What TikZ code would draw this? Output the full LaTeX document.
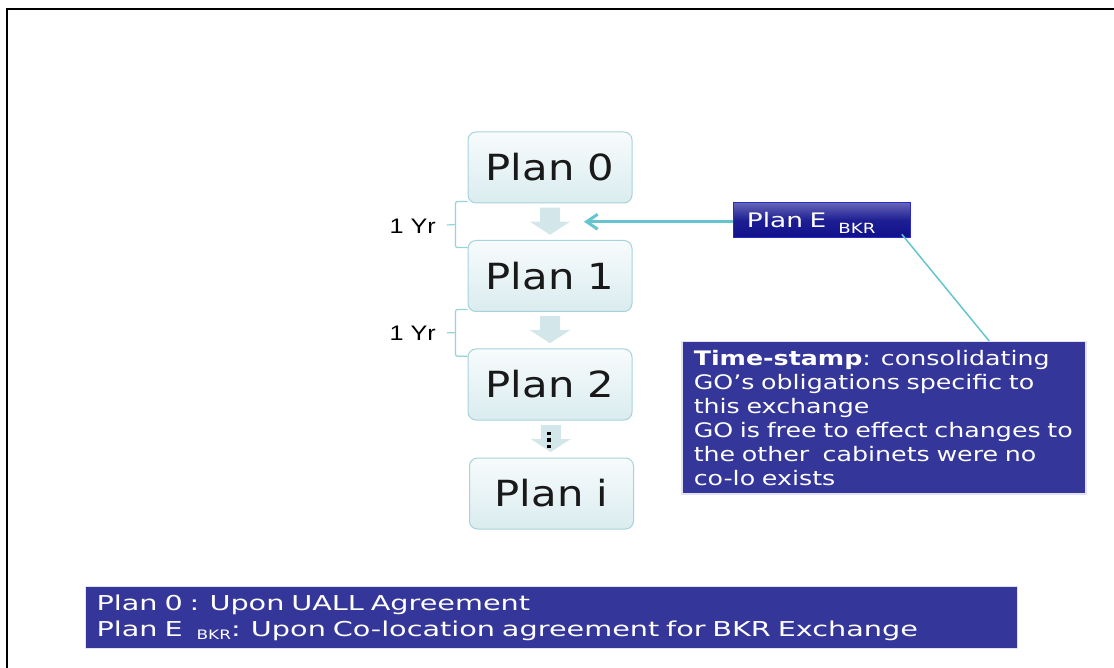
\documentclass[tikz,border=0pt]{standalone}
\usepackage{fontspec}
\setmainfont{DejaVu Sans}
\newfontfamily\planfont[FakeStretch=1.16]{DejaVu Sans}
\newfontfamily\notefont[FakeStretch=1.265]{DejaVu Sans}
\newfontfamily\keyfont[FakeStretch=1.40]{DejaVu Sans}
\newfontfamily\tagfont[FakeStretch=1.32]{DejaVu Sans}
\newfontfamily\subfont[FakeStretch=1.3]{DejaVu Sans}
\newfontfamily\yrfont[FakeStretch=1.2]{Liberation Sans}
\usetikzlibrary{arrows.meta,calc}

\definecolor{planedge}{HTML}{A6D3DA}
\definecolor{plantop}{HTML}{F7FBFC}
\definecolor{planbot}{HTML}{DAECEF}
\definecolor{flowfill}{HTML}{D3E7EB}
\definecolor{linkc}{HTML}{64C5CF}
\definecolor{bracec}{HTML}{96D2D9}
\definecolor{navy}{HTML}{35369A}
\definecolor{tagtop}{HTML}{6666B6}
\definecolor{tagmid}{HTML}{1E1E94}
\definecolor{tagbot}{HTML}{10108A}
\definecolor{tagedge}{HTML}{2A2AC8}
\definecolor{halo}{HTML}{E2E2F2}

\tikzset{
  planbox/.style={draw=planedge, line width=1pt, rounded corners=8pt,
    top color=plantop, bottom color=planbot,
    minimum width=164pt, minimum height=71pt, inner sep=0pt,
    font=\planfont\fontsize{36}{40}\selectfont, text=black!90},
  flowarrow/.style={fill=flowfill, draw=none},
  yrbrace/.style={draw=bracec, line width=1.2pt, rounded corners=2pt},
  yrlabel/.style={font=\yrfont\fontsize{21}{24}\selectfont, anchor=east,
    inner sep=0pt, text=black},
  linkline/.style={draw=linkc, line width=3pt},
  tagbox/.style={draw=tagedge, line width=0.8pt, top color=tagtop,
    bottom color=tagbot, middle color=tagmid, text=white,
    font=\tagfont\fontsize{20}{24}\selectfont, anchor=north west,
    text width=150pt, align=left, inner xsep=13.5pt, inner ysep=0pt,
    minimum height=35.5pt},
  notebox/.style={fill=navy, draw=halo, line width=1.5pt, text=white,
    font=\notefont\fontsize{20}{24}\selectfont, anchor=north west,
    text width=380pt, align=left, inner xsep=12pt, inner ysep=0pt,
    minimum height=152pt},
  keybox/.style={fill=navy, draw=halo, line width=1.2pt, text=white,
    font=\keyfont\fontsize{20.5}{26}\selectfont, anchor=north west,
    text width=910pt, align=left, inner xsep=11pt, inner ysep=0pt,
    minimum height=62pt}
}

% broad downward block arrow centred on a coordinate
\newcommand\flowdown[1]{%
  \fill[flowarrow] ($(#1)+(-10,-14)$) -- ++(20,0) -- ++(0,14) -- ++(10,0)
    -- ++(-20,13) -- ++(-20,-13) -- ++(10,0) -- cycle;}

\begin{document}
\begin{tikzpicture}[x=1pt,y=-1pt]
\useasboundingbox (0,0) rectangle (1114,668);

% page frame
\draw[line width=2.5pt, line join=miter] (7,668) -- (7,9) -- (1114,9);

% plan sequence
\node[planbox] (p0) at (550,167.5) {Plan 0};
\node[planbox] (p1) at (550,276)   {Plan 1};
\node[planbox] (p2) at (550,384.5) {Plan 2};
\node[planbox] (pi) at (551.5,493.5) {Plan i};

\coordinate (m01) at ($(p0.south)!0.5!(p1.north)$);
\coordinate (m12) at ($(p1.south)!0.5!(p2.north)$);
\coordinate (m23) at ($(p2.south)!0.5!(pi.north)$);
\flowdown{m01}
\flowdown{m12}
\flowdown{m23}

% ellipsis on the last step
\foreach \dy in {-5.5,1,7.5}
  \fill[black] ($(m23)+(-3.3,\dy)+(0,-1.6)$) rectangle ++(3.2,3.2);

% yearly intervals
\node[yrlabel] (yr1) at (436,226) {1 Yr};
\node[yrlabel] (yr2) at (436,333.5) {1 Yr};

\coordinate (b1t) at ($(p0.south west)+(0,-2)$);
\coordinate (b1b) at ($(p1.north west)+(0,7.5)$);
\draw[yrbrace] (b1t) -- ++(-12,0) |- (b1b);
\draw[yrbrace] ([xshift=11pt]yr1.east |- 0,225) -- ($(b1t)!0.5!(b1b)+(-12,0)$);

\coordinate (b2t) at ($(p1.south west)+(0,-2.5)$);
\coordinate (b2b) at ($(p2.north west)+(0,7.7)$);
\draw[yrbrace] (b2t) -- ++(-12,0) |- (b2b);
\draw[yrbrace] ([xshift=11pt]yr2.east |- 0,332.8) -- ($(b2t)!0.5!(b2b)+(-12,0)$);

% BKR plan and its notes
\node[tagbox] (pe) at (733,202)
  {Plan E\kern12pt\raisebox{-6pt}[0pt][0pt]{\subfont\fontsize{14}{14}\selectfont BKR}};

\coordinate (tipE) at ($(m01)+(34,0)$);
\draw[linkline, -{Straight Barb[length=11pt,width=15pt]}]
  (pe.west |- tipE) -- (tipE);

\node[notebox] (ts) at (681,341)
  {\mbox{\textbf{Time-stamp}: consolidating}\\
   \mbox{GO’s obligations specific to}\\
   \mbox{this exchange}\\
   \mbox{GO is free to effect changes to}\\
   \mbox{the other\ \ cabinets were no}\\
   \mbox{co-lo exists}};

\draw[linkline, line width=1.5pt]
  ([xshift=-9pt,yshift=4pt]pe.south east) -- ($(ts.north west)!0.76!(ts.north east)$);

% key
\node[keybox] (key) at (85,586)
  {Plan 0 : Upon UALL Agreement\\
   Plan E\kern14pt\raisebox{-3.5pt}[0pt][0pt]{\subfont\fontsize{13}{13}\selectfont BKR}: Upon Co-location agreement for BKR Exchange};
\end{tikzpicture}
\end{document}
